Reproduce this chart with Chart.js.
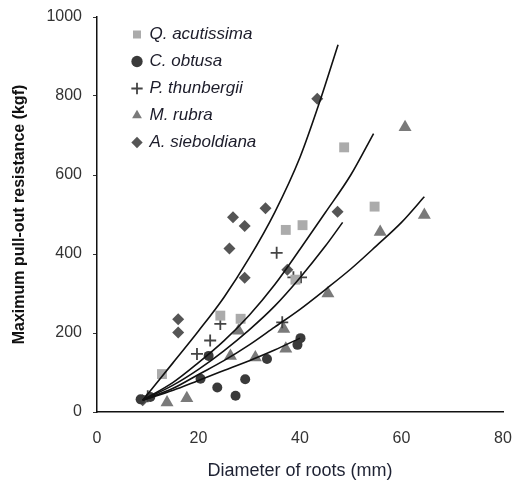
<!DOCTYPE html>
<html>
<head>
<meta charset="utf-8">
<script src="https://cdn.jsdelivr.net/npm/chart.js@4/dist/chart.umd.min.js"></script>
<style>
  html, body { margin: 0; padding: 0; background: #fff; }
  #wrap { width: 512px; height: 492px; }
</style>
</head>
<body>
<div id="wrap"><canvas id="c" width="512" height="492"></canvas></div>
<script>
// ---- data ----
const seriesNames = ['Q. acutissima', 'C. obtusa', 'P. thunbergii', 'M. rubra', 'A. sieboldiana'];

const qAcutissima = [[12.8,96],[24.3,244],[28.3,236],[37.2,461],[40.5,473],[39.1,335],[48.7,670],[54.7,520]];
const cObtusa = [[8.6,32],[10.5,38],[20.4,84],[22.0,142],[23.7,62],[27.3,41],[29.2,83],[33.5,134],[39.5,170],[40.1,187]];
const pThunbergii = [[10,40],[19.7,147],[22.3,181],[24.3,223],[35.4,403],[36.5,227],[38.7,341],[40.2,341]];
const mRubra = [[13.8,24],[17.7,35],[26.3,142],[27.9,206],[31.2,138],[36.8,210],[37.2,160],[45.5,300],[55.8,456],[60.7,721],[64.5,499]];
const aSieboldiana = [[9,30],[16.0,235],[16.0,201],[26.1,414],[26.8,493],[29.1,471],[29.1,340],[33.2,516],[37.5,360],[43.4,793],[47.4,507]];

// fitted curves, points
const curveA = [[9,30],[15,125],[20,205],[25,290],[30,390],[35,505],[40,645],[44,790],[47.5,930]];
const curveQ = [[9,30],[15,75],[20,125],[25,180],[30,245],[35,322],[40,412],[45,505],[50,600],[54.5,705]];
const curveP = [[9,30],[15,68],[20,108],[25,155],[30,208],[35,268],[40,340],[45,420],[48.4,480]];
const curveM = [[9,30],[15,60],[20,95],[25,130],[30,170],[35,215],[40,260],[45,310],[50,362],[55,420],[60,480],[64.5,545]];
const curveC = [[9,30],[15,55],[20,80],[25,105],[30,130],[35,157],[40,187]];

const xTicks = [0, 20, 40, 60, 80];
const yTicks = [0, 200, 400, 600, 800, 1000];

const toXY = arr => arr.map(p => ({x: p[0], y: p[1]}));

function scatterSet(label, data, style, fill, stroke, radius) {
  return {
    type: 'scatter', label, data: toXY(data), order: 1,
    pointStyle: style, pointRadius: radius, pointHoverRadius: radius,
    backgroundColor: fill, borderColor: stroke, borderWidth: style === 'cross' ? 1.8 : 0
  };
}
function curveSet(data) {
  return {
    type: 'line', label: '', data: toXY(data), order: 0, isCurve: true,
    showLine: true, pointRadius: 0, borderColor: '#111', borderWidth: 1.6,
    cubicInterpolationMode: 'monotone', fill: false
  };
}

const shiftLegend = {
  id: 'shiftLegend',
  afterLayout(chart) { if (chart.legend) { chart.legend.left += 26; chart.legend.top += 16; } }
};

const font = '"Liberation Sans", Arial, sans-serif';

new Chart(document.getElementById('c'), {
  type: 'scatter',
  data: {
    datasets: [
      scatterSet(seriesNames[0], qAcutissima, 'rect', '#ababab', '#ababab', 7),
      scatterSet(seriesNames[1], cObtusa, 'circle', '#3a3a3a', '#3a3a3a', 5),
      scatterSet(seriesNames[2], pThunbergii, 'cross', '#444', '#444', 6),
      scatterSet(seriesNames[3], mRubra, 'triangle', '#7a7a7a', '#7a7a7a', 7.5),
      scatterSet(seriesNames[4], aSieboldiana, 'rectRot', '#555', '#555', 6),
      curveSet(curveA), curveSet(curveQ), curveSet(curveP), curveSet(curveM), curveSet(curveC)
    ]
  },
  options: {
    responsive: false,
    animation: false,
    layout: { padding: { left: 6, right: 9, top: 17, bottom: 6 } },
    plugins: {
      tooltip: { enabled: false },
      legend: {
        position: 'chartArea', align: 'start',
        labels: {
          usePointStyle: true, boxWidth: 8, boxHeight: 8, padding: 10,
          color: '#1c1c2a',
          font: { family: font, size: 17, style: 'italic' },
          filter: (item, data) => !data.datasets[item.datasetIndex].isCurve
        }
      }
    },
    scales: {
      x: {
        type: 'linear', min: 0, max: 80,
        afterBuildTicks: s => { s.ticks = xTicks.map(v => ({value: v})); },
        afterFit: s => { s.height = 74; s.paddingLeft = 0; s.paddingRight = 0; },
        border: { display: true, color: '#111', width: 1.5 },
        grid: { display: true, drawOnChartArea: false, drawTicks: false },
        ticks: { padding: 17, color: '#333', font: { family: font, size: 16 }, callback: v => String(v) },
        title: { display: true, text: 'Diameter of roots (mm)', color: '#1e2233',
                 font: { family: font, size: 18 } }
      },
      y: {
        type: 'linear', min: 0, max: 1000,
        afterBuildTicks: s => { s.ticks = yTicks.map(v => ({value: v})); },
        afterFit: s => { s.width = 91; s.paddingTop = 0; s.paddingBottom = 0; },
        border: { display: true, color: '#111', width: 1.5 },
        grid: { display: true, drawOnChartArea: false, drawTicks: true, tickLength: 4, color: '#333' },
        ticks: { padding: 11, color: '#333', font: { family: font, size: 16 }, callback: v => String(v) },
        title: { display: true, text: 'Maximum pull-out resistance (kgf)', color: '#111',
                 font: { family: font, size: 16, weight: 'bold' } }
      }
    }
  },
  plugins: [shiftLegend]
});
</script>
</body>
</html>
